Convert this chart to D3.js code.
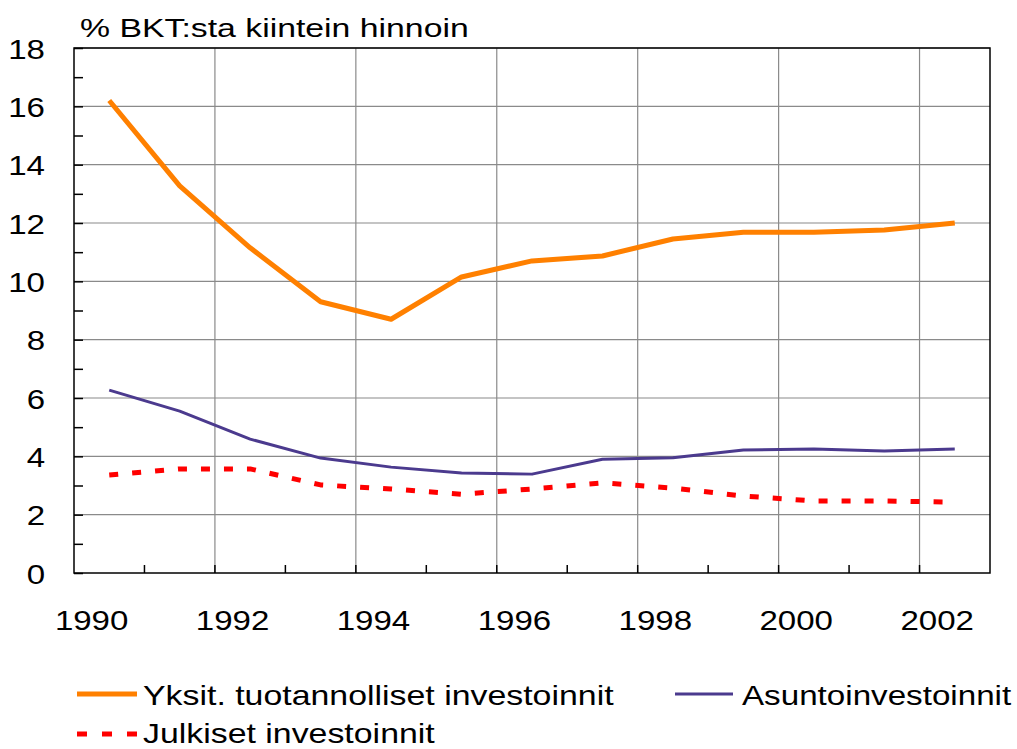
<!DOCTYPE html>
<html>
<head>
<meta charset="utf-8">
<script src="https://cdn.jsdelivr.net/npm/d3@7"></script>
<style>
  body { margin: 0; background: #fff; }
  svg { display: block; font-family: "Liberation Sans", Arial, sans-serif; }
</style>
</head>
<body>
<svg id="chart" width="1017" height="749"></svg>
<script>
// data
const years = [1990, 1991, 1992, 1993, 1994, 1995, 1996, 1997, 1998, 1999, 2000, 2001, 2002];
const yksit = [16.2, 13.27, 11.15, 9.3, 8.7, 10.15, 10.7, 10.87, 11.45, 11.68, 11.68, 11.76, 12.0];
const asunto = [6.27, 5.55, 4.59, 3.94, 3.63, 3.43, 3.39, 3.9, 3.95, 4.22, 4.25, 4.18, 4.25];
const julkiset = [3.36, 3.57, 3.57, 3.02, 2.88, 2.7, 2.88, 3.09, 2.91, 2.64, 2.47, 2.47, 2.43];
const labelYears = [1990, 1992, 1994, 1996, 1998, 2000, 2002];
const yTicks = [0, 2, 4, 6, 8, 10, 12, 14, 16, 18];

const series = [
    { name: "Yksit. tuotannolliset investoinnit", values: yksit, color: "#ff8000", width: 5, dash: null },
    { name: "Asuntoinvestoinnit", values: asunto, color: "#4b3a8e", width: 3, dash: null },
    { name: "Julkiset investoinnit", values: julkiset, color: "#ff0000", width: 5, dash: "9,14" }
];

// plot area
const pLeft = 74, pRight = 990, pTop = 48, pBottom = 573;
const stretch = 1.18;   // text in the source is a bit wide

const svg = d3.select("#chart");

const x = d3.scaleBand().domain(years).range([pLeft, pRight]).padding(0);
const y = d3.scaleLinear().domain([0, 18]).range([pBottom, pTop]);
const bw = x.bandwidth();

// grid
const grid = svg.append("g");
grid.selectAll(".hgrid")
    .data(yTicks.filter(d => d > 0))
    .enter().append("line")
    .attr("x1", pLeft).attr("x2", pRight)
    .attr("y1", d => y(d)).attr("y2", d => y(d))
    .attr("stroke", "#8a8a8a").attr("stroke-width", 1.2);

grid.selectAll(".vgrid")
    .data(years.filter(d => d % 2 === 0 && d > 1990))
    .enter().append("line")
    .attr("x1", d => x(d)).attr("x2", d => x(d))
    .attr("y1", pTop).attr("y2", pBottom)
    .attr("stroke", "#8a8a8a").attr("stroke-width", 1.2);

// frame
svg.append("rect")
    .attr("x", pLeft).attr("y", pTop)
    .attr("width", pRight - pLeft).attr("height", pBottom - pTop)
    .attr("fill", "none").attr("stroke", "#000").attr("stroke-width", 1.5);

// y axis: minor ticks at every unit, labels at even values
svg.append("g")
    .attr("transform", `translate(${pLeft},0)`)
    .call(d3.axisLeft(y).tickValues(d3.range(0, 19)).tickSize(-9).tickFormat(""))
    .call(g => g.select(".domain").remove())
    .call(g => g.selectAll("line").attr("stroke", "#000").attr("stroke-width", 1.5));

const yAxis = svg.append("g")
    .attr("transform", `translate(${pLeft},0)`)
    .call(d3.axisLeft(y).tickValues(yTicks).tickSize(0).tickPadding(29))
    .call(g => g.select(".domain").remove());
yAxis.selectAll("text")
    .attr("x", 0)
    .attr("dy", "0.36em")
    .attr("transform", `translate(-29,0) scale(${stretch},1)`)
    .style("font-size", "28px")
    .style("font-family", "Liberation Sans, Arial, sans-serif")
    .attr("fill", "#000");

// x axis: ticks at band boundaries, labels on even years
svg.append("g").selectAll(".xtick")
    .data(years.slice(1))
    .enter().append("line")
    .attr("x1", d => x(d)).attr("x2", d => x(d))
    .attr("y1", pBottom).attr("y2", pBottom - 8)
    .attr("stroke", "#000").attr("stroke-width", 1.5);

const xAxis = svg.append("g")
    .attr("transform", `translate(0,${pBottom})`)
    .call(d3.axisBottom(x).tickValues(labelYears).tickSize(0).tickPadding(0))
    .call(g => g.select(".domain").remove());
xAxis.selectAll("text")
    .attr("y", 0).attr("dy", 0)
    .attr("transform", `translate(${-0.25 * bw},57) scale(${stretch},1)`)
    .style("font-size", "28px")
    .style("font-family", "Liberation Sans, Arial, sans-serif")
    .attr("fill", "#000");

// lines
const line = d3.line()
    .x((d, i) => x(years[i]) + bw / 2)
    .y(d => y(d));

svg.append("g").selectAll(".series")
    .data(series)
    .enter().append("path")
    .attr("d", d => line(d.values))
    .attr("fill", "none")
    .attr("stroke", d => d.color)
    .attr("stroke-width", d => d.width)
    .attr("stroke-dasharray", d => d.dash)
    .attr("stroke-linejoin", "round");

// title
svg.append("text")
    .attr("transform", `translate(80,37) scale(1.3,1)`)
    .style("font-size", "26px")
    .attr("fill", "#000")
    .text("% BKT:sta kiintein hinnoin");

// legend
const legendPos = [
    { x: 77, y: 694 },
    { x: 675, y: 694 },
    { x: 77, y: 734 }
];
const legend = svg.append("g").selectAll(".legend")
    .data(series)
    .enter().append("g")
    .attr("transform", (d, i) => `translate(${legendPos[i].x},${legendPos[i].y})`);

legend.append("line")
    .attr("x1", 0).attr("x2", (d, i) => i === 1 ? 58 : 60)
    .attr("y1", 0).attr("y2", 0)
    .attr("stroke", d => d.color)
    .attr("stroke-width", d => d.width === 5 ? 5 : 3)
    .attr("stroke-dasharray", d => d.dash ? "10,15" : null);

legend.append("text")
    .attr("transform", (d, i) => `translate(${i === 1 ? 67 : 66},${i === 2 ? 9 : 11}) scale(${i === 1 ? 1.185 : 1.21},1)`)
    .style("font-size", "28px")
    .attr("fill", "#000")
    .text(d => d.name);
</script>
</body>
</html>
